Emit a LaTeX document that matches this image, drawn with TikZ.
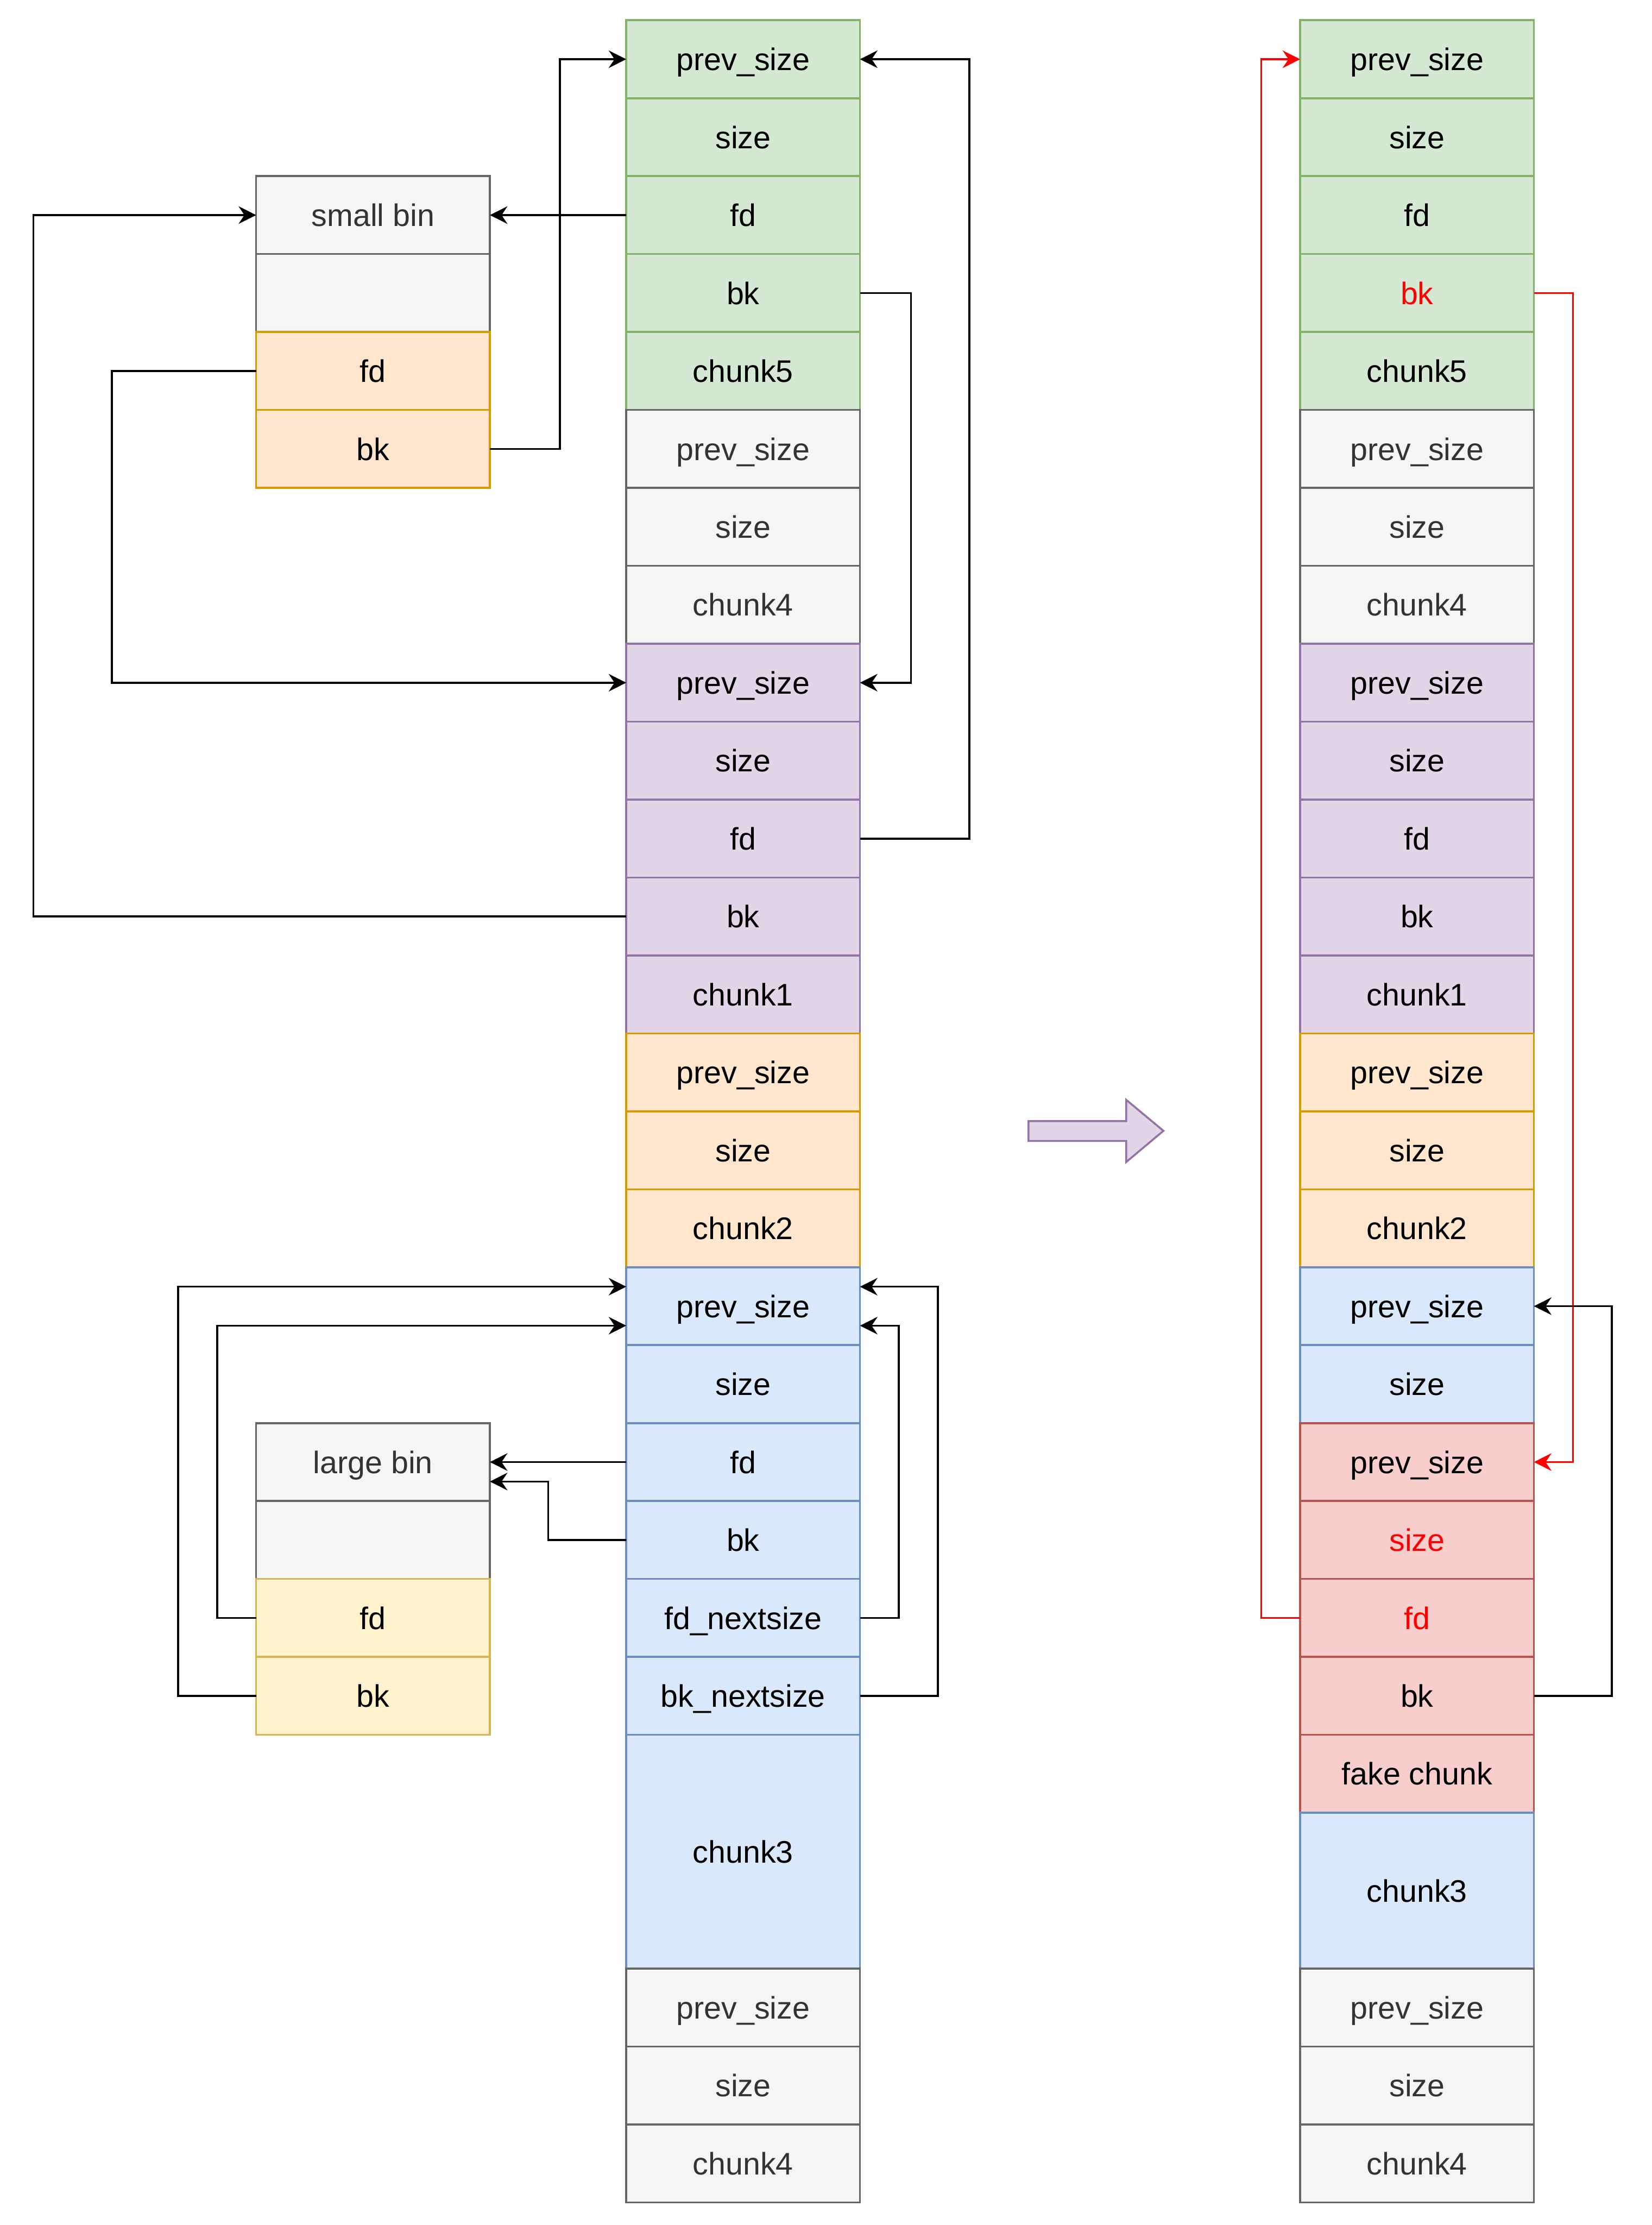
\documentclass[tikz,border=0pt]{standalone}
\usepackage{fontspec}
\setmainfont{Liberation Sans}
\usetikzlibrary{arrows.meta,calc}
\definecolor{gfill}{HTML}{D5E8D4}\definecolor{gline}{HTML}{82B366}
\definecolor{kfill}{HTML}{F5F5F5}\definecolor{kline}{HTML}{666666}\definecolor{ktext}{HTML}{333333}
\definecolor{pfill}{HTML}{E1D5E7}\definecolor{pline}{HTML}{9673A6}
\definecolor{ofill}{HTML}{FFE6CC}\definecolor{oline}{HTML}{D79B00}
\definecolor{bfill}{HTML}{DAE8FC}\definecolor{bline}{HTML}{6C8EBF}
\definecolor{yfill}{HTML}{FFF2CC}\definecolor{yline}{HTML}{D6B656}
\definecolor{rfill}{HTML}{F8CECC}\definecolor{rline}{HTML}{B85450}
\definecolor{hot}{HTML}{FF0000}
\newcommand\cellfont{\fontsize{16}{19}\selectfont}
\begin{document}
\begin{tikzpicture}[x=1pt,y=-1pt,
  cell/.style={line width=1pt, minimum width=120pt, minimum height=40pt, inner sep=0pt, outer sep=0pt, anchor=north west, font=\cellfont, text=black, text height=11.5pt, text depth=0pt},
  gc/.style={cell, fill=gfill, draw=gline},
  kc/.style={cell, fill=kfill, draw=kline, text=ktext},
  pc/.style={cell, fill=pfill, draw=pline},
  oc/.style={cell, fill=ofill, draw=oline},
  bc/.style={cell, fill=bfill, draw=bline},
  yc/.style={cell, fill=yfill, draw=yline},
  rc/.style={cell, fill=rfill, draw=rline},
  conn/.style={line width=1pt, -{Stealth[length=9pt,width=9pt,inset=3pt]}},
  hotconn/.style={conn, draw=hot, color=hot}]
\useasboundingbox (0,0) rectangle (848,1142);

% ---------------- left column ----------------
\node[gc] (L0) at (321.5,10.4) {prev\_size};
\node[gc] (L1) at (321.5,50.4) {size};
\node[gc] (L2) at (321.5,90.4) {fd};
\node[gc] (L3) at (321.5,130.4) {bk};
\node[gc] (L4) at (321.5,170.4) {chunk5};
\node[kc] (L5) at (321.5,210.4) {prev\_size};
\node[kc] (L6) at (321.5,250.4) {size};
\node[kc] (L7) at (321.5,290.4) {chunk4};
\node[pc] (L8) at (321.5,330.4) {prev\_size};
\node[pc] (L9) at (321.5,370.4) {size};
\node[pc] (L10) at (321.5,410.4) {fd};
\node[pc] (L11) at (321.5,450.4) {bk};
\node[pc] (L12) at (321.5,490.4) {chunk1};
\node[oc] (L13) at (321.5,530.4) {prev\_size};
\node[oc] (L14) at (321.5,570.4) {size};
\node[oc] (L15) at (321.5,610.4) {chunk2};
\node[bc] (L16) at (321.5,650.4) {prev\_size};
\node[bc] (L17) at (321.5,690.4) {size};
\node[bc] (L18) at (321.5,730.4) {fd};
\node[bc] (L19) at (321.5,770.4) {bk};
\node[bc] (L20) at (321.5,810.4) {fd\_nextsize};
\node[bc] (L21) at (321.5,850.4) {bk\_nextsize};
\node[bc, minimum height=120pt] (L22) at (321.5,890.4) {chunk3};
\node[kc] (L25) at (321.5,1010.4) {prev\_size};
\node[kc] (L26) at (321.5,1050.4) {size};
\node[kc] (L27) at (321.5,1090.4) {chunk4};

% ---------------- small bin ----------------
\node[kc] (sb0) at (131.5,90.4) {small bin};
\node[kc] (sb1) at (131.5,130.4) {};
\node[oc] (sbfd) at (131.5,170.4) {fd};
\node[oc] (sbbk) at (131.5,210.4) {bk};

% ---------------- large bin ----------------
\node[kc] (lb0) at (131.5,730.4) {large bin};
\node[kc] (lb1) at (131.5,770.4) {};
\node[yc] (lbfd) at (131.5,810.4) {fd};
\node[yc] (lbbk) at (131.5,850.4) {bk};

% ---------------- right column ----------------
\node[gc] (R0) at (667.5,10.4) {prev\_size};
\node[gc] (R1) at (667.5,50.4) {size};
\node[gc] (R2) at (667.5,90.4) {fd};
\node[gc, text=hot] (R3) at (667.5,130.4) {bk};
\node[gc] (R4) at (667.5,170.4) {chunk5};
\node[kc] (R5) at (667.5,210.4) {prev\_size};
\node[kc] (R6) at (667.5,250.4) {size};
\node[kc] (R7) at (667.5,290.4) {chunk4};
\node[pc] (R8) at (667.5,330.4) {prev\_size};
\node[pc] (R9) at (667.5,370.4) {size};
\node[pc] (R10) at (667.5,410.4) {fd};
\node[pc] (R11) at (667.5,450.4) {bk};
\node[pc] (R12) at (667.5,490.4) {chunk1};
\node[oc] (R13) at (667.5,530.4) {prev\_size};
\node[oc] (R14) at (667.5,570.4) {size};
\node[oc] (R15) at (667.5,610.4) {chunk2};
\node[bc] (R16) at (667.5,650.4) {prev\_size};
\node[bc] (R17) at (667.5,690.4) {size};
\node[rc] (R18) at (667.5,730.4) {prev\_size};
\node[rc, text=hot] (R19) at (667.5,770.4) {size};
\node[rc, text=hot] (R20) at (667.5,810.4) {fd};
\node[rc] (R21) at (667.5,850.4) {bk};
\node[rc] (R22) at (667.5,890.4) {fake chunk};
\node[bc, minimum height=80pt] (R23) at (667.5,930.4) {chunk3};
\node[kc] (R25) at (667.5,1010.4) {prev\_size};
\node[kc] (R26) at (667.5,1050.4) {size};
\node[kc] (R27) at (667.5,1090.4) {chunk4};

% ---------------- big arrow ----------------
\draw[fill=pfill, draw=pline, line width=1pt]
  (528,575.4) -- (578.2,575.4) -- (578.2,564.5) -- (597.3,580.4)
  -- (578.2,596.4) -- (578.2,585.6) -- (528,585.6) -- cycle;

% ---------------- left connectors ----------------
\draw[conn] (sbbk.east) -- ++(36,0) |- (L0.west);
\draw[conn] (L2.west) -- (sb0.east);
\draw[conn] (L11.west) -- ++(-304.3,0) |- (sb0.west);
\draw[conn] (sbfd.west) -- ++(-74,0) |- (L8.west);
\draw[conn] (L3.east) -- ++(26.2,0) |- (L8.east);
\draw[conn] (L10.east) -- ++(56.2,0) |- (L0.east);

\draw[conn] (lbbk.west) -- ++(-40,0) |- ($(L16.west)!.5!(L16.north west)$);
\draw[conn] (lbfd.west) -- ++(-20,0) |- ($(L16.west)!.5!(L16.south west)$);
\draw[conn] (L18.west) -- (lb0.east);
\draw[conn] (L19.west) -- ++(-40,0) |- ($(lb0.east)!.5!(lb0.south east)$);
\draw[conn] (L20.east) -- ++(20,0) |- ($(L16.east)!.5!(L16.south east)$);
\draw[conn] (L21.east) -- ++(40,0) |- ($(L16.east)!.5!(L16.north east)$);

% ---------------- right connectors ----------------
\draw[hotconn] (R20.west) -- ++(-20,0) |- (R0.west);
\draw[hotconn] (R3.east) -- ++(20,0) |- (R18.east);
\draw[conn] (R21.east) -- ++(40,0) |- (R16.east);
\end{tikzpicture}
\end{document}
